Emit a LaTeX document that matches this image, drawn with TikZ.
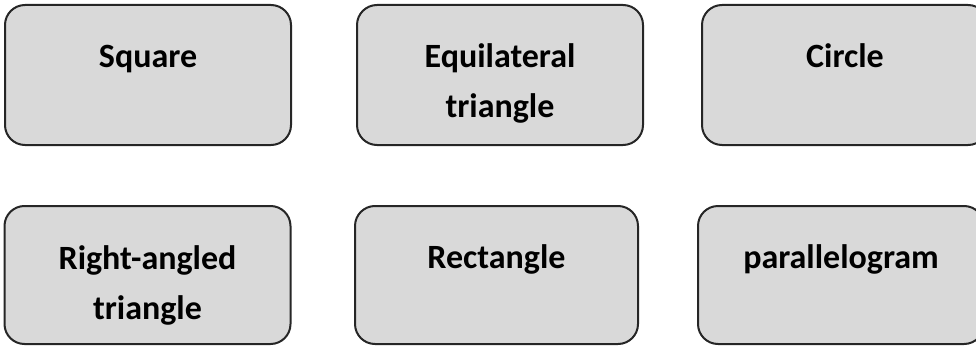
\documentclass[tikz,border=0pt]{standalone}
\usepackage{fontspec}
\setmainfont{Carlito}
\usetikzlibrary{positioning}

\begin{document}
\begin{tikzpicture}[
  x=1pt, y=-1pt,
  shapebox/.style={draw=black!85, line width=2pt, rounded corners=20pt,
    fill=black!15, minimum width=286pt, minimum height=140pt, inner sep=0pt},
  boxlabel/.style={font=\fontsize{34}{50}\selectfont\bfseries, align=center,
    inner sep=0pt, text height=24pt, anchor=north},
  twolines/.style={text height=74pt}
]
  \useasboundingbox (0,0) rectangle (976,345);
  \clip (0,0) rectangle (976,345);

  % top row
  \node[shapebox] (sq) at (148,75) {};
  \node[shapebox] (eq) at (500,75) {};
  \node[shapebox] (ci) at (845,75) {};
  \node[boxlabel, below=39pt of sq.north] (sqtxt) {Square};
  \node[boxlabel, twolines, below=39pt of eq.north] (eqtxt) {Equilateral\\triangle};
  \node[boxlabel, below=39pt of ci.north] (citxt) {Circle};

  % bottom row
  \node[shapebox, minimum height=138pt] (ra) at (147.5,275) {};
  \node[shapebox, minimum height=138pt, minimum width=283pt] (re) at (496.5,275) {};
  \node[shapebox, minimum height=138pt] (pa) at (841,275) {};
  \node[boxlabel, twolines, below=40pt of ra.north] (ratxt) {Right-angled\\triangle};
  \node[boxlabel, below=39pt of re.north] (retxt) {Rectangle};
  \node[boxlabel, below=39pt of pa.north] (patxt) {parallelogram};
\end{tikzpicture}
\end{document}
